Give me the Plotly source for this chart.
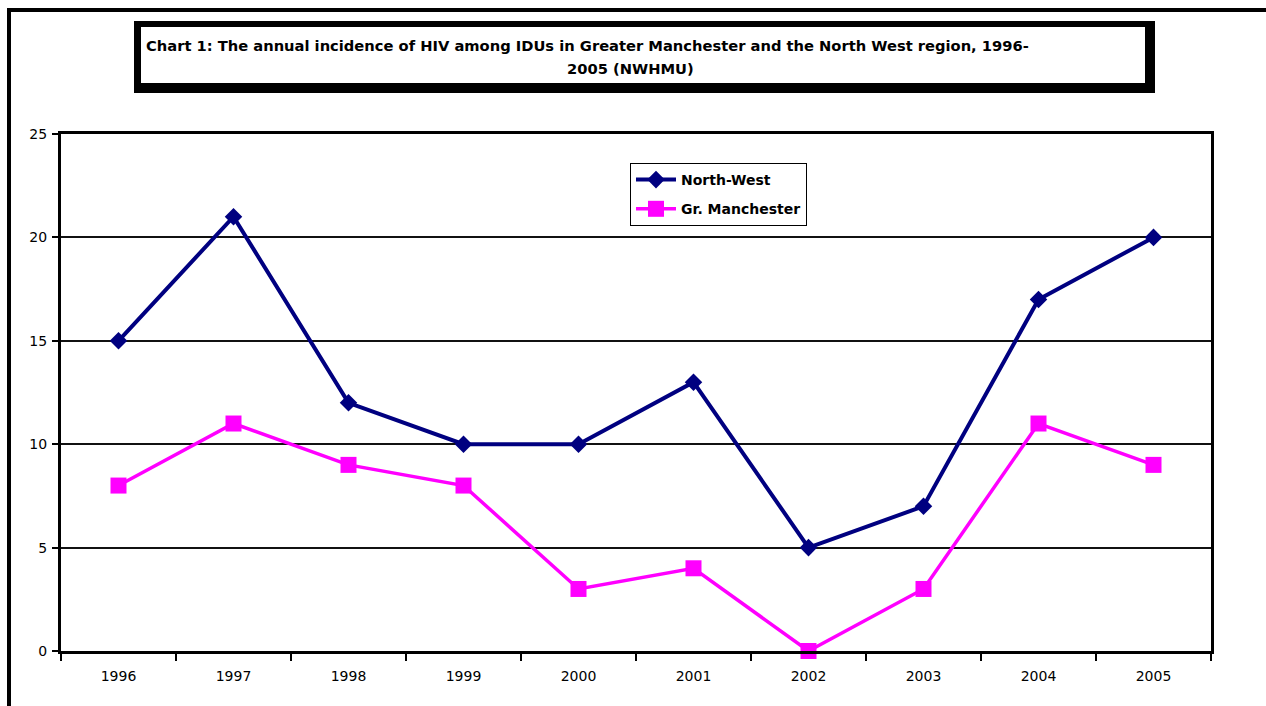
import plotly.graph_objects as go

# Annual HIV incidence among injecting drug users
years = ["1996", "1997", "1998", "1999", "2000", "2001", "2002", "2003", "2004", "2005"]
north_west = [15, 21, 12, 10, 10, 13, 5, 7, 17, 20]
gr_manchester = [8, 11, 9, 8, 3, 4, 0, 3, 11, 9]
y_ticks = [0, 5, 10, 15, 20, 25]

title_line1 = "Chart 1: The annual incidence of HIV among IDUs in Greater Manchester and the North West region, 1996-"
title_line2 = "2005 (NWHMU)"

W, H = 1266, 706
L, R, T, B = 61, 1211, 134, 651  # plot area in pixels


def px(x):
    return (x - L) / (R - L)


def py(y):
    return (B - y) / (B - T)


FONT = "DejaVu Sans, sans-serif"

fig = go.Figure()
fig.add_trace(go.Scatter(
    x=years, y=north_west, name="North-West", mode="lines+markers",
    legendgroup="nw",
    line=dict(color="#000080", width=4),
    marker=dict(symbol="diamond", size=13.5, color="#000080"),
    cliponaxis=False,
))
fig.add_trace(go.Scatter(
    x=years, y=gr_manchester, name="Gr. Manchester", mode="lines+markers",
    legendgroup="gm",
    line=dict(color="#FF00FF", width=3.5),
    marker=dict(symbol="square", size=16, color="#FF00FF"),
    cliponaxis=False,
))

shapes = [
    # outer frame (left and top edges)
    dict(type="line", xref="paper", yref="paper", x0=px(9), x1=px(9), y0=py(10), y1=py(720),
         line=dict(color="black", width=4), layer="above"),
    dict(type="line", xref="paper", yref="paper", x0=px(7), x1=px(1280), y0=py(10), y1=py(10),
         line=dict(color="black", width=4), layer="above"),
    # title box with heavy border
    dict(type="rect", xref="paper", yref="paper", x0=px(134), x1=px(1155), y0=py(21), y1=py(93),
         fillcolor="black", line=dict(width=0), layer="above"),
    dict(type="rect", xref="paper", yref="paper", x0=px(141), x1=px(1145), y0=py(27), y1=py(83),
         fillcolor="white", line=dict(width=0), layer="above"),
]

annotations = [
    dict(xref="paper", yref="paper", x=px(587), y=py(45), xanchor="center", yanchor="middle",
         text=title_line1, showarrow=False,
         font=dict(family=FONT, size=14.7, color="black", weight="bold")),
    dict(xref="paper", yref="paper", x=px(630), y=py(68), xanchor="center", yanchor="middle",
         text=title_line2, showarrow=False,
         font=dict(family=FONT, size=14.7, color="black", weight="bold")),
]

fig.update_layout(
    width=W, height=H,
    margin=dict(l=L, r=W - R, t=T, b=H - B),
    paper_bgcolor="white", plot_bgcolor="white",
    font=dict(family=FONT, size=14, color="black"),
    shapes=shapes, annotations=annotations,
    showlegend=True,
    legend=dict(
        x=px(630), y=py(163), xanchor="left", yanchor="top",
        bordercolor="black", borderwidth=1, bgcolor="white",
        font=dict(family=FONT, size=14, color="black", weight="bold"),
        tracegroupgap=8, itemwidth=40,
    ),
    xaxis=dict(
        type="category", categoryorder="array", categoryarray=years,
        range=[-0.5, 9.5], tickson="boundaries", ticks="outside", ticklen=7,
        tickwidth=2, tickcolor="black", showgrid=False,
        showline=True, linewidth=3, linecolor="black", mirror=True,
        ticklabelstandoff=10,
        tickfont=dict(family=FONT, size=14, color="black"), zeroline=False,
    ),
    yaxis=dict(
        range=[0, 25], tickvals=y_ticks, ticktext=[str(v) for v in y_ticks],
        ticks="outside", ticklen=6, tickwidth=2, tickcolor="black",
        showgrid=True, gridcolor="#111111", gridwidth=1.5,
        showline=True, linewidth=3, linecolor="black", mirror=True,
        ticklabelstandoff=2,
        tickfont=dict(family=FONT, size=14, color="black"), zeroline=False,
    ),
)

fig.write_html("out.html")
